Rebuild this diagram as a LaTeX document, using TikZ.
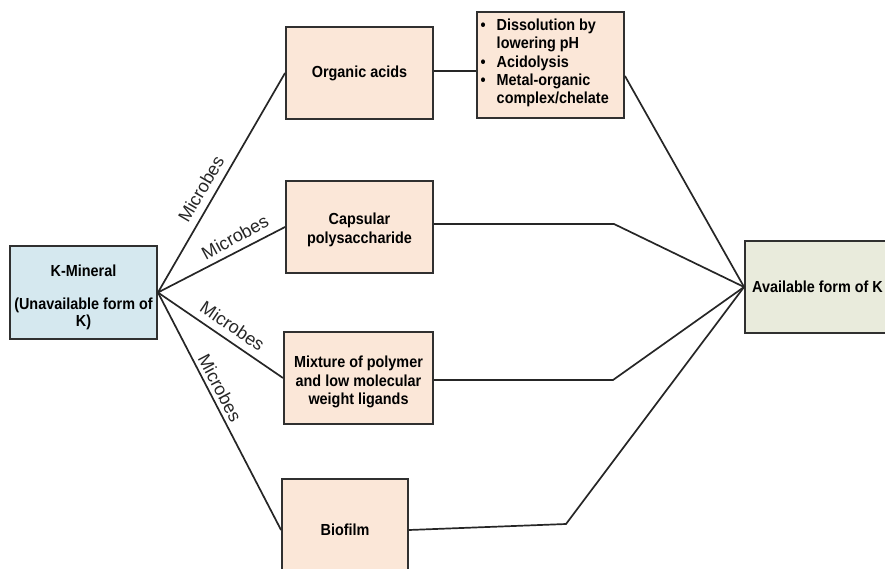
\documentclass[tikz,border=0pt]{standalone}
\usepackage{fontspec}
\setmainfont{Liberation Sans}
\newfontfamily\boxfont{Liberation Sans}[FakeStretch=0.9]
\definecolor{peach}{HTML}{FBE7D8}
\definecolor{kblue}{HTML}{D5E8EF}
\definecolor{olivel}{HTML}{E9EBDC}
\definecolor{boxline}{HTML}{303030}
\begin{document}
\begin{tikzpicture}[x=1pt,y=-1pt,
  box/.style={draw=boxline, line width=1.9pt, inner sep=0pt, align=center,
    font=\boxfont\bfseries\fontsize{16}{18.3}\selectfont},
  btext/.style={inner sep=0pt, align=center,
    font=\boxfont\bfseries\fontsize{16}{18.3}\selectfont},
  conn/.style={line width=1.7pt, draw=black!85},
  lbl/.style={font=\fontsize{18}{20}\selectfont, inner sep=0pt, text=black!85}]
\useasboundingbox (0,0) rectangle (885,569);
\clip (0,0) rectangle (885,569);

% boxes
\node[box, fill=kblue, minimum width=147pt, minimum height=93pt] (kmin) at (83.5,292.5) {};
\node[btext, font=\boxfont\bfseries\fontsize{16}{17}\selectfont] (kmintxt) at (83.5,297)
  {K-Mineral\\[16pt](Unavailable form of\\K)};
\node[box, fill=peach, minimum width=147pt, minimum height=92pt] (org) at (359.5,73) {Organic acids};
\node[box, fill=peach, minimum width=147pt, minimum height=106pt] (bul) at (550.5,65) {};
\node[anchor=north west, inner sep=0pt, font=\boxfont\bfseries\fontsize{16}{18.3}\selectfont] (bultxt) at (480.5,17.5)
  {\begin{tabular}{@{}l@{\hspace{11pt}}l@{}}
    \textbullet & Dissolution by\\
     & lowering pH\\
    \textbullet & Acidolysis\\
    \textbullet & Metal-organic\\
     & complex/chelate
  \end{tabular}};
\node[box, fill=peach, minimum width=147pt, minimum height=92pt] (cap) at (359.5,227) {};
\node[btext] (captxt) at (359.5,230) {Capsular\\polysaccharide};
\node[box, fill=peach, minimum width=149pt, minimum height=92pt] (mix) at (358.5,378) {};
\node[btext] (mixtxt) at (358.5,382) {Mixture of polymer\\and low molecular\\weight ligands};
\node[box, fill=peach, minimum width=126pt, minimum height=102pt] (bio) at (345,530) {Biofilm};
\node[box, fill=olivel, minimum width=145pt, minimum height=92pt] (avail) at (817.5,287) {Available form of K};

% bend points
\coordinate (bc) at (614,224);
\coordinate (bm) at (613,380);
\coordinate (bb) at (566,524);

% connectors
\draw[conn] (kmin.east) -- (org.west);
\draw[conn] (kmin.east) -- (cap.west);
\draw[conn] (kmin.east) -- (mix.west);
\draw[conn] (kmin.east) -- (bio.west);
\draw[conn] ([yshift=2pt]org.east) -- ([yshift=2pt]org.east -| bul.west);
\draw[conn] ([yshift=-11pt]bul.east) -- (avail.west);
\draw[conn] ([yshift=3pt]cap.east) -- (bc) -- (avail.west);
\draw[conn] ([yshift=-2pt]mix.east) -- (bm) -- (avail.west);
\draw[conn] (bio.east) -- (bb) -- (avail.west);

% labels
\node[lbl, rotate=59.6] (l1) at (201,189) {Microbes};
\node[lbl, rotate=28.5] (l2) at (235,237) {Microbes};
\node[lbl, rotate=-34.3] (l3) at (232.5,326) {Microbes};
\node[lbl, rotate=-62.3] (l4) at (220,388) {Microbes};
\end{tikzpicture}
\end{document}
